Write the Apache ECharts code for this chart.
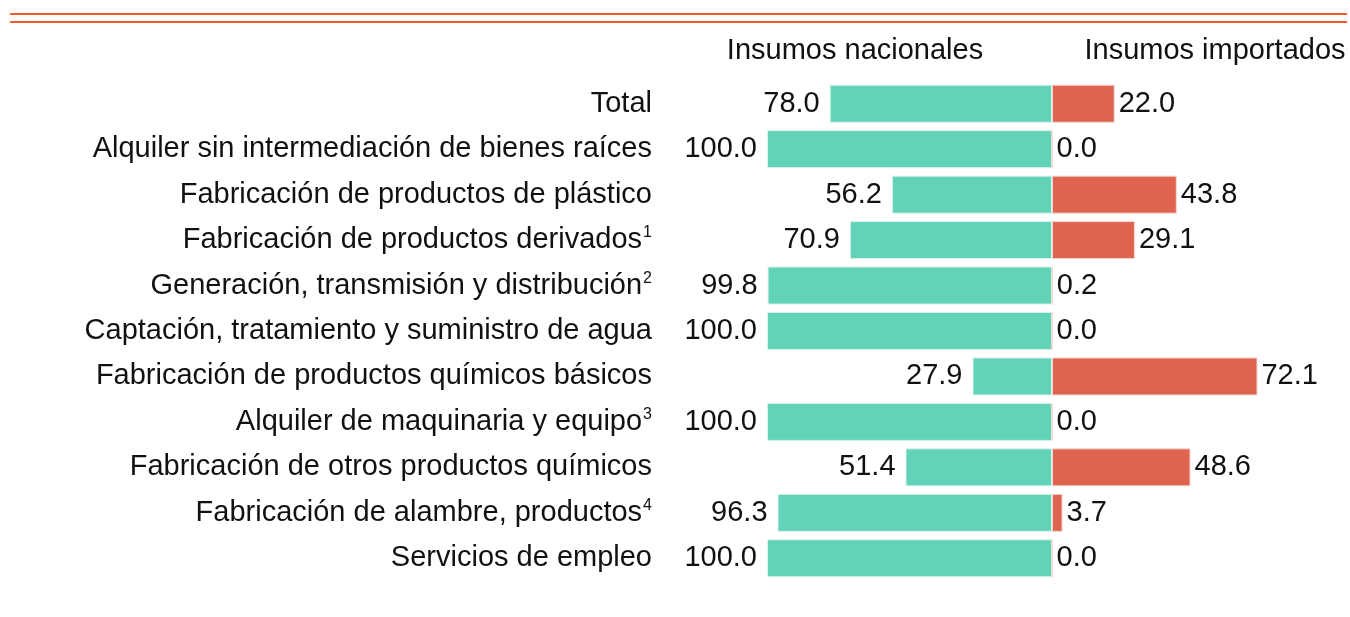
<!DOCTYPE html>
<html lang="es">
<head>
    <meta charset="UTF-8">
    <title>Insumos nacionales e importados</title>
    <script src="https://cdn.jsdelivr.net/npm/echarts@6/dist/echarts.min.js"></script>
    <style>
        html, body { margin: 0; padding: 0; background: #fff; }
        #chart { width: 1350px; height: 617px; }
    </style>
</head>
<body>
<div id="chart"></div>
<script>
    // categorias (el ^ marca el superindice de la nota)
    var categorias = [
        'Total',
        'Alquiler sin intermediación de bienes raíces',
        'Fabricación de productos de plástico',
        'Fabricación de productos derivados^1',
        'Generación, transmisión y distribución^2',
        'Captación, tratamiento y suministro de agua',
        'Fabricación de productos químicos básicos',
        'Alquiler de maquinaria y equipo^3',
        'Fabricación de otros productos químicos',
        'Fabricación de alambre, productos^4',
        'Servicios de empleo'
    ];
    var nacionales = [78.0, 100.0, 56.2, 70.9, 99.8, 100.0, 27.9, 100.0, 51.4, 96.3, 100.0];
    var importados = [22.0, 0.0, 43.8, 29.1, 0.2, 0.0, 72.1, 0.0, 48.6, 3.7, 0.0];
    var encabezados = ['Insumos nacionales', 'Insumos importados'];

    var fuente = 'Liberation Sans';
    var chart = echarts.init(document.getElementById('chart'));

    var option = {
        animation: false,
        textStyle: { fontFamily: fuente },
        graphic: [
            { type: 'line', shape: { x1: 10, y1: 14, x2: 1347, y2: 14 }, style: { stroke: '#ee5a2a', lineWidth: 2 } },
            { type: 'line', shape: { x1: 10, y1: 22, x2: 1347, y2: 22 }, style: { stroke: '#ee5a2a', lineWidth: 2 } },
            { type: 'text', x: 855, y: 51, style: { text: encabezados[0], fontSize: 29, fontFamily: fuente, fill: '#111', align: 'center', verticalAlign: 'middle' } },
            { type: 'text', x: 1215, y: 51, style: { text: encabezados[1], fontSize: 29, fontFamily: fuente, fill: '#111', align: 'center', verticalAlign: 'middle' } }
        ],
        grid: { left: 767, top: 81, width: 570, height: 500, containLabel: false },
        xAxis: {
            type: 'value', min: -100, max: 100, show: false
        },
        yAxis: {
            type: 'category',
            inverse: true,
            data: categorias,
            axisLine: { show: false },
            axisTick: { show: false },
            axisLabel: {
                margin: 115,
                color: '#111',
                fontSize: 29,
                formatter: function (v) {
                    var p = v.split('^');
                    if (p.length > 1) return '{a|' + p[0] + '}{s|' + p[1] + '}';
                    return '{a|' + v + '}';
                },
                rich: {
                    a: { fontSize: 29, color: '#111', fontFamily: fuente },
                    s: { fontSize: 16, color: '#111', fontFamily: fuente, padding: [0, 0, 14, 1] }
                }
            }
        },
        series: [
            {
                name: encabezados[0],
                type: 'bar',
                barWidth: 38,
                barGap: '-100%',
                itemStyle: { color: '#62d3b7', borderColor: '#d8f3ec', borderWidth: 1 },
                label: {
                    show: true, position: 'left', distance: 10,
                    fontSize: 29, color: '#111', fontFamily: fuente,
                    formatter: function (p) { return Math.abs(p.value).toFixed(1); }
                },
                data: nacionales.map(function (v) { return -v; })
            },
            {
                name: encabezados[1],
                type: 'bar',
                barWidth: 38,
                barGap: '-100%',
                itemStyle: { color: '#de644f', borderColor: '#f3d6d0', borderWidth: 1 },
                label: {
                    show: true, position: 'right', distance: 4,
                    fontSize: 29, color: '#111', fontFamily: fuente,
                    formatter: function (p) { return p.value.toFixed(1); }
                },
                data: importados
            }
        ]
    };
    chart.setOption(option);
</script>
</body>
</html>
